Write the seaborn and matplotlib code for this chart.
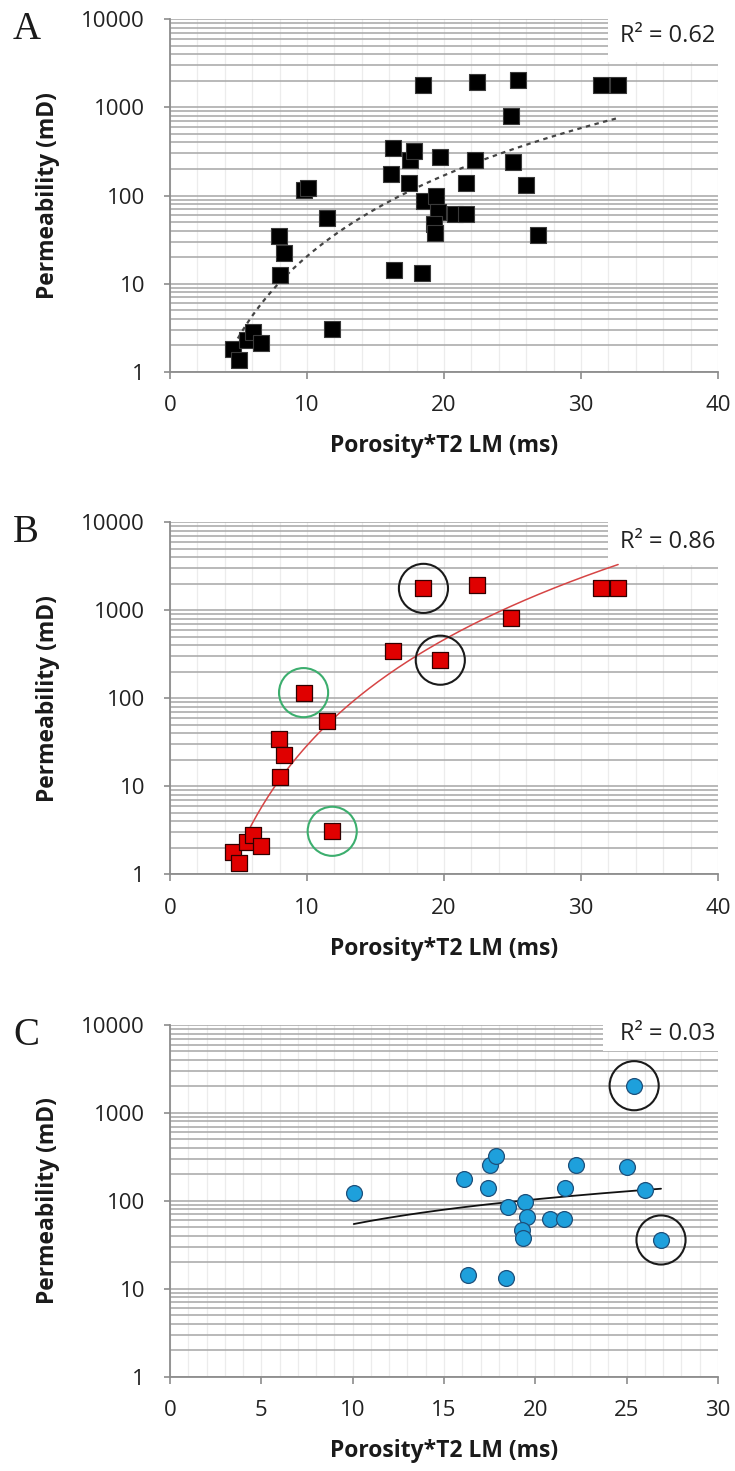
import numpy as np
import pandas as pd
import matplotlib
matplotlib.use("Agg")
import matplotlib.pyplot as plt
import seaborn as sns
from matplotlib.ticker import FixedLocator, LogLocator, MultipleLocator, FuncFormatter
from matplotlib.patches import Rectangle

# ---------------- data ----------------
# Panel B samples (red squares)
b_x = [4.63, 5.00, 5.63, 6.07, 6.61, 7.95, 8.35, 8.03, 9.75, 11.48, 11.84,
       16.27, 18.50, 19.73, 22.39, 24.90, 31.43, 32.71]
b_k = [1.79, 1.36, 2.30, 2.82, 2.11, 34.8, 22.5, 12.6, 116, 55.8, 3.08,
       349, 1775, 271, 1935, 808, 1775, 1775]
# Panel C samples (blue circles)
c_x = [10.06, 16.12, 16.33, 17.41, 17.51, 17.82, 18.37, 18.51, 19.45, 19.53,
       19.29, 19.35, 20.82, 21.57, 21.63, 22.24, 25.00, 25.41, 25.98, 26.88]
c_k = [122, 177, 14.3, 139, 256, 324, 13.1, 86, 98, 65,
       47, 37.4, 62, 62, 139, 256, 240, 2040, 133, 35.9]
# Panel A = all samples
a_x = b_x + c_x
a_k = b_k + c_k

# highlighted samples
b_black_x = [18.50, 19.73]
b_black_k = [1775, 271]
b_green_x = [9.75, 11.84]
b_green_k = [116, 3.08]
c_black_x = [25.41, 26.88]
c_black_k = [2040, 35.9]

r2_texts = ["R² = 0.62", "R² = 0.86", "R² = 0.03"]
panel_letters = ["A", "B", "C"]
y_ticks = [1, 10, 100, 1000, 10000]
xlabel = "Porosity*T2 LM (ms)"
ylabel = "Permeability (mD)"

# ---------------- style ----------------
sns.set_theme(style="white")
plt.rcParams["font.family"] = ["Open Sans", "DejaVu Sans"]

W, H = 735, 1471
fig = plt.figure(figsize=(W / 100, H / 100), dpi=100)

left = 170 / W
width = 548 / W
tops = [19.3, 522.3, 1025.0]
heights = [352.4, 352.0, 351.7]

GRID_H = "#a6a6a6"
GRID_V = "#ececec"
SPINE = "#8c8c8c"


def power_fit(x, y):
    x = np.asarray(x, float)
    y = np.asarray(y, float)
    b, a = np.polyfit(np.log(x), np.log(y), 1)
    xs = np.linspace(x.min(), x.max(), 200)
    return xs, np.exp(a) * xs ** b


def setup_axis(ax, xmax, xmajor, xminor, r2, text_y, box_left, box_bottom):
    ax.set_yscale("log")
    ax.set_ylim(1, 10000)
    ax.set_xlim(0, xmax)
    ax.yaxis.set_major_locator(FixedLocator(y_ticks))
    ax.yaxis.set_minor_locator(LogLocator(base=10, subs=np.arange(2, 10)))
    ax.yaxis.set_major_formatter(FuncFormatter(lambda v, p: f"{int(round(v))}"))
    ax.xaxis.set_major_locator(MultipleLocator(xmajor))
    ax.xaxis.set_minor_locator(MultipleLocator(xminor))
    ax.set_axisbelow(True)
    ax.grid(which="both", axis="x", color=GRID_V, lw=0.9, zorder=0)
    ax.grid(which="both", axis="y", color=GRID_H, lw=1.1, zorder=0.5)
    for s in ["top", "right"]:
        ax.spines[s].set_visible(False)
    for s in ["left", "bottom"]:
        ax.spines[s].set_visible(True)
        ax.spines[s].set_color(SPINE)
        ax.spines[s].set_linewidth(1.3)
    ax.tick_params(axis="y", which="major", left=True, length=4, width=1.2,
                   color=SPINE, pad=14, labelsize=16, labelcolor="#222222")
    ax.tick_params(axis="x", which="major", bottom=True, length=5, width=1.2,
                   color=SPINE, pad=12, labelsize=16, labelcolor="#222222")
    ax.tick_params(which="minor", length=0)
    ax.set_xlabel(xlabel, fontsize=16.5, fontweight="bold", color="#1a1a1a")
    ax.set_ylabel(ylabel, fontsize=16.5, fontweight="bold", color="#1a1a1a")
    ax.xaxis.set_label_coords(0.5, -0.178)
    ax.yaxis.set_label_coords(-0.20, 0.5)
    ax.add_patch(Rectangle((box_left, box_bottom), 1.0 - box_left, 1.0 - box_bottom,
                           transform=ax.transAxes, fc="white", ec="none",
                           zorder=1.5, clip_on=False))
    ax.text(0.995, text_y, r2, transform=ax.transAxes, ha="right", va="center",
            fontsize=17, color="#222222", zorder=5)


axes = []
for i in range(3):
    bottom = 1 - (tops[i] + heights[i]) / H
    ax = fig.add_axes([left, bottom, width, heights[i] / H])
    axes.append(ax)

# ---------- Panel A ----------
ax = axes[0]
setup_axis(ax, 40, 10, 2, r2_texts[0], 0.953, 0.80, 0.88)
xs, ys = power_fit(a_x, a_k)
sns.lineplot(x=xs, y=ys, ax=ax, color="#444444", lw=1.6, linestyle=(0, (2, 2)),
             sort=False, zorder=2)
sns.scatterplot(x=a_x, y=a_k, ax=ax, marker="s", s=125, color="black",
                edgecolor="#3a3a3a", linewidth=0.8, zorder=3)

# ---------- Panel B ----------
ax = axes[1]
setup_axis(ax, 40, 10, 2, r2_texts[1], 0.945, 0.80, 0.879)
xs, ys = power_fit(b_x, b_k)
sns.lineplot(x=xs, y=ys, ax=ax, color="#d64545", lw=1.1, sort=False, zorder=2)
sns.scatterplot(x=b_x, y=b_k, ax=ax, marker="s", s=125, color="#e00000",
                edgecolor="#300000", linewidth=0.9, zorder=3)
sns.scatterplot(x=b_black_x, y=b_black_k, ax=ax, marker="o", s=1250,
                facecolor="none", edgecolor="#1a1a1a", linewidth=1.5, zorder=4)
sns.scatterplot(x=b_green_x, y=b_green_k, ax=ax, marker="o", s=1250,
                facecolor="none", edgecolor="#3cae6e", linewidth=1.5, zorder=4)

# ---------- Panel C ----------
ax = axes[2]
setup_axis(ax, 30, 5, 1, r2_texts[2], 0.975, 0.79, 0.925)
xs, ys = power_fit(c_x, c_k)
sns.lineplot(x=xs, y=ys, ax=ax, color="#111111", lw=1.3, sort=False, zorder=2)
sns.scatterplot(x=c_x, y=c_k, ax=ax, marker="o", s=130, color="#1ea0dc",
                edgecolor="#1d4f7a", linewidth=0.9, zorder=3)
sns.scatterplot(x=c_black_x, y=c_black_k, ax=ax, marker="o", s=1250,
                facecolor="none", edgecolor="#1a1a1a", linewidth=1.5, zorder=4)

# panel letters
for i, letter in enumerate(panel_letters):
    base = tops[i] + 20
    fig.text(13 / W, 1 - base / H, letter, fontsize=28,
             family=["Liberation Serif", "DejaVu Serif"], color="#1a1a1a",
             ha="left", va="baseline")

fig.savefig("out.png", dpi=100)
